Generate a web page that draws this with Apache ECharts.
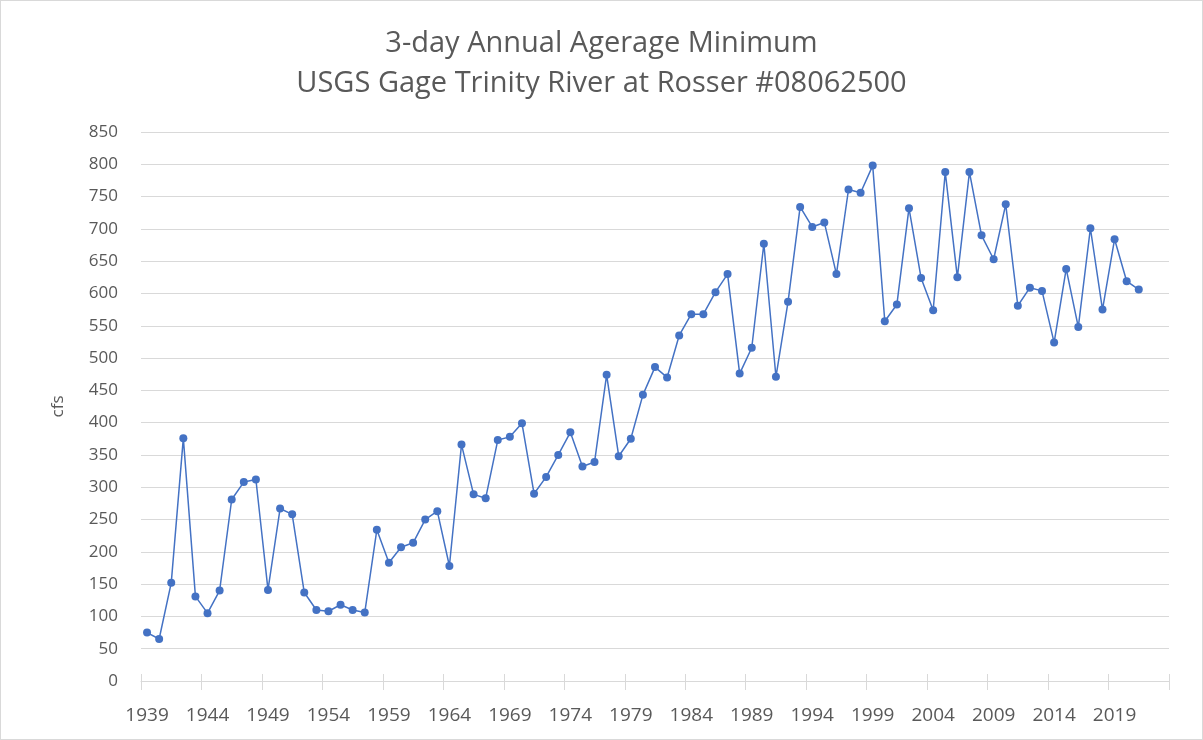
<!DOCTYPE html>
<html>
<head>
<meta charset="utf-8">
<script src="https://cdn.jsdelivr.net/npm/echarts@6/dist/echarts.min.js"></script>
<style>
  html, body { margin: 0; padding: 0; background: #fff; }
  #chart { width: 1203px; height: 740px; box-sizing: border-box; border: 1px solid #d9d9d9; }
</style>
</head>
<body>
<div id="chart"></div>
<script>
'use strict';

// ── Data ──────────────────────────────────────────────────────────────────────
const years = [];
for (let y = 1939; y <= 2023; y++) years.push(String(y));

// 3-day annual average minimum flow (cfs), 1939–2021
const minFlow = [
  75, 65, 152, 376, 131, 105, 140, 281, 308, 312,
  141, 267, 258, 137, 110, 108, 118, 110, 106, 234,
  183, 207, 214, 250, 263, 178, 366, 289, 283, 373,
  378, 399, 290, 316, 350, 385, 332, 339, 474, 348,
  375, 443, 486, 470, 535, 568, 568, 602, 630, 476,
  516, 677, 471, 587, 734, 703, 710, 630, 761, 756,
  798, 557, 583, 732, 624, 574, 788, 625, 788, 690,
  653, 738, 581, 609, 604, 524, 638, 548, 701, 575,
  684, 619, 606
];

const titleLines = ['3-day Annual Agerage Minimum', 'USGS Gage Trinity River at Rosser #08062500'];

// ── Chart ─────────────────────────────────────────────────────────────────────
const chart = echarts.init(document.getElementById('chart'), null, { renderer: 'canvas' });
const txt = '#595959';
const grid = '#d9d9d9';
const font = 'Open Sans, Noto Sans, sans-serif';

chart.setOption({
  animation: false,
  title: {
    text: titleLines.join('\n'),
    left: 'center',
    top: 18,
    textStyle: { color: txt, fontSize: 29, fontWeight: 'normal', fontFamily: font, lineHeight: 40 },
  },
  grid: { left: 140, right: 33, top: 131, bottom: 58 },
  xAxis: [{
    type: 'category',
    data: years,
    boundaryGap: true,
    axisLine: { lineStyle: { color: grid, width: 1 } },
    axisTick: { show: true, interval: 4, length: 9, lineStyle: { color: grid } },
    axisLabel: { interval: 4, color: txt, fontSize: 19, fontFamily: font, margin: 25 },
    splitLine: { show: false },
  }, {
    type: 'category',
    data: years,
    position: 'bottom',
    boundaryGap: true,
    axisLine: { show: false },
    axisTick: { show: true, inside: true, interval: 4, length: 7, lineStyle: { color: grid } },
    axisLabel: { show: false },
  }],
  yAxis: {
    type: 'value',
    min: 0,
    max: 850,
    interval: 50,
    name: 'cfs',
    nameLocation: 'middle',
    nameGap: 74,
    nameRotate: 90,
    nameTextStyle: { color: txt, fontSize: 17, fontFamily: font },
    axisLine: { show: false },
    axisTick: { show: false },
    axisLabel: { color: txt, fontSize: 17, fontFamily: font, margin: 23 },
    splitLine: { lineStyle: { color: grid, width: 1 } },
  },
  series: [{
    type: 'line',
    data: minFlow,
    symbol: 'circle',
    symbolSize: 8,
    lineStyle: { color: '#4472C4', width: 1.5 },
    itemStyle: { color: '#4472C4' },
  }],
});
</script>
</body>
</html>
